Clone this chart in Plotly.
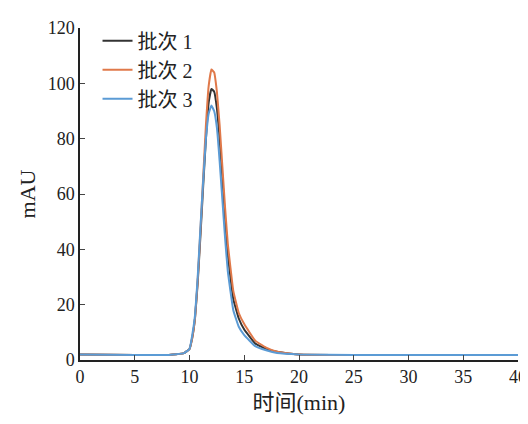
import plotly.graph_objects as go

t = [0, 5, 8, 9.5, 10, 10.25, 10.5, 10.75, 11, 11.25, 11.5, 11.75, 12, 12.25, 12.5, 12.75, 13, 13.25, 13.5, 14, 14.5, 15, 16, 17, 18, 20, 25, 30, 35, 40]
batch1 = [2, 1.8, 1.8, 2.5, 4, 8, 15, 28, 45, 63, 80, 93, 98, 97, 91, 80, 66, 51, 38, 22, 15, 11, 6, 4, 3, 2, 1.8, 1.8, 1.8, 1.8]
batch2 = [2, 1.8, 1.8, 2.5, 4, 8, 15, 29, 47, 66, 85, 99, 105, 104, 97, 85, 70, 55, 42, 25, 17, 13, 7, 4.5, 3, 2, 1.8, 1.8, 1.8, 1.8]
batch3 = [2, 1.8, 1.8, 2.5, 4, 9, 16, 30, 48, 65, 80, 89, 92, 90, 84, 72, 58, 44, 32, 18, 12, 9, 5, 3.5, 2.5, 2, 1.8, 1.8, 1.8, 1.8]

names = ["批次 1", "批次 2", "批次 3"]
colors = ["#333333", "#e0794a", "#5b9bd5"]

fig = go.Figure()
for name, y, c in zip(names, [batch1, batch2, batch3], colors):
    fig.add_trace(go.Scatter(x=t, y=y, name=name, mode="lines",
                             line=dict(color=c, width=2, shape="spline", smoothing=0.3)))

font = "Liberation Serif, Noto Sans CJK SC"
fig.update_layout(
    width=528, height=424, plot_bgcolor="white", paper_bgcolor="white",
    margin=dict(l=72, r=18, t=20, b=72, autoexpand=False),
    font=dict(family=font, size=18, color="#222"),
    legend=dict(x=0.04, y=1.02, bgcolor="rgba(0,0,0,0)", font=dict(size=20),
                tracegroupgap=0, itemwidth=30),
)
fig.update_xaxes(range=[0, 40], dtick=5, showline=True, linecolor="#222", linewidth=1.5,
                 ticks="inside", ticklen=5, showgrid=False, zeroline=False,
                 title=dict(text="时间(min)", standoff=8))
fig.update_yaxes(range=[0, 120], dtick=20, showline=True, linecolor="#222", linewidth=1.5,
                 ticks="inside", ticklen=5, showgrid=False, zeroline=False,
                 title=dict(text="mAU", standoff=6))
fig.write_html("out.html")
